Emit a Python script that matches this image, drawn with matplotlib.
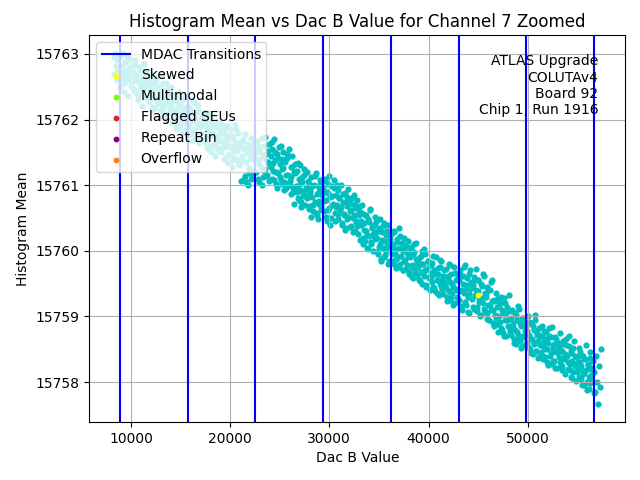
import numpy as np
import matplotlib
matplotlib.use("Agg")
import matplotlib.pyplot as plt

BASE = 15757.0

# MDAC transition positions (Dac B value)
mdac_transitions = [8880, 15710, 22540, 29370, 36200, 43030, 49860, 56690]

# segment boundaries of the sweep (Dac B)
seg_edges = [8260, 8880, 15710, 22540, 29370, 36200, 43030, 49860, 56690, 57380]

# histogram means (offset from 15757) read per segment, first pass
seg0 = [5.95, 5.70, 6.02, 5.82, 5.60, 5.90, 5.75, 5.98]
seg1 = [5.95, 5.62, 5.81, 5.70, 6.02, 5.55, 5.88, 5.74, 5.60, 5.92, 5.68, 5.79, 5.51, 5.85, 5.66,
        5.72, 5.45, 5.90, 5.58, 5.66, 5.38, 5.80, 5.52, 5.61, 5.75, 5.43, 5.57, 5.84, 5.49, 5.62,
        5.35, 5.60, 5.28, 5.52, 5.70, 5.41, 5.19, 5.55, 5.46, 5.33, 5.64, 5.25, 5.50, 5.38, 5.44,
        5.42, 5.15, 5.30, 5.55, 5.21, 5.36, 5.08, 5.47, 5.27, 5.12, 5.39, 5.24, 5.50, 5.18, 5.31,
        5.05, 5.28, 4.92, 5.15, 5.35, 5.00, 5.22, 4.88, 5.10, 5.30, 4.97, 5.18, 5.07, 4.85, 5.12]
seg2 = [5.20, 4.90, 5.08, 4.78, 5.15, 4.98, 5.28, 4.85, 5.02, 4.72, 5.12, 4.95, 5.22, 4.88, 5.00,
        4.80, 5.05, 4.70, 4.92, 5.12, 4.65, 4.88, 4.98, 4.75, 5.08, 4.83, 4.60, 4.95, 4.78, 4.90,
        4.62, 4.88, 4.75, 4.55, 4.98, 4.70, 4.82, 4.50, 4.92, 4.66, 4.78, 4.58, 4.85, 4.72, 4.45,
        4.70, 4.48, 4.85, 4.60, 4.38, 4.75, 4.55, 4.92, 4.42, 4.65, 4.52, 4.80, 4.35, 4.62, 4.58,
        4.40, 4.68, 4.10, 4.55, 4.78, 4.05, 4.50, 4.62, 4.18, 4.45, 4.72, 4.15, 4.58, 4.22, 4.48]
seg3 = [4.55, 4.20, 4.68, 4.38, 4.05, 4.50, 4.28, 4.72, 4.12, 4.42, 4.60, 4.25, 4.48, 4.15, 4.35,
        4.62, 4.30, 4.45, 4.10, 4.55, 4.22, 4.70, 4.38, 4.02, 4.48, 4.18, 4.58, 4.32, 4.08, 4.40,
        4.25, 4.50, 4.05, 4.35, 3.95, 4.42, 4.15, 4.55, 4.00, 4.28, 4.12, 4.45, 3.90, 4.20, 4.32,
        3.98, 4.22, 3.80, 4.10, 3.92, 4.30, 3.75, 4.05, 3.88, 4.15, 3.70, 3.95, 4.20, 3.85, 4.02,
        3.90, 3.68, 4.12, 3.82, 3.60, 4.00, 3.75, 4.18, 3.55, 3.88, 3.95, 3.72, 4.08, 3.62, 3.85]
seg4 = [3.95, 3.60, 4.10, 3.78, 3.45, 3.88, 4.02, 3.65, 3.82, 3.50, 3.98, 3.72, 4.08, 3.58, 3.85,
        3.70, 3.92, 3.48, 3.80, 3.62, 4.00, 3.40, 3.75, 3.55, 3.88, 3.35, 3.68, 3.82, 3.52, 3.78,
        3.60, 3.38, 3.72, 3.50, 3.85, 3.30, 3.65, 3.45, 3.78, 3.25, 3.55, 3.68, 3.40, 3.58, 3.20,
        3.42, 3.15, 3.55, 3.30, 3.05, 3.48, 3.22, 3.62, 3.10, 3.35, 3.00, 3.40, 3.18, 3.52, 3.28,
        3.20, 2.95, 3.35, 3.10, 2.85, 3.28, 3.05, 3.42, 2.90, 3.15, 3.00, 3.30, 2.80, 3.12, 3.22]
seg5 = [3.25, 2.95, 3.10, 2.80, 3.30, 3.02, 2.88, 3.18, 2.75, 3.05, 3.22, 2.92, 3.12, 2.70, 3.00,
        2.85, 3.08, 2.72, 2.98, 3.15, 2.65, 2.90, 3.02, 2.78, 2.60, 2.95, 3.10, 2.68, 2.88, 2.82,
        2.75, 2.55, 2.90, 2.68, 3.00, 2.50, 2.80, 2.62, 2.95, 2.45, 2.72, 2.85, 2.58, 2.78, 2.66,
        2.60, 2.82, 2.45, 2.70, 2.38, 2.90, 2.55, 2.65, 2.32, 2.75, 2.50, 2.85, 2.42, 2.62, 2.52,
        2.48, 2.72, 2.30, 2.58, 2.80, 2.25, 2.52, 2.65, 2.35, 2.45, 2.75, 2.20, 2.55, 2.40, 2.62]
seg6 = [2.55, 2.25, 2.70, 2.40, 2.10, 2.62, 2.35, 2.78, 2.18, 2.48, 2.30, 2.65, 2.05, 2.42, 2.52,
        2.45, 2.15, 2.60, 2.32, 2.72, 2.08, 2.38, 2.55, 2.22, 2.00, 2.50, 2.28, 2.65, 2.12, 2.35,
        2.30, 2.05, 2.45, 2.18, 1.95, 2.40, 2.10, 2.55, 1.90, 2.25, 2.02, 2.35, 1.88, 2.15, 2.28,
        2.00, 2.20, 1.82, 2.10, 1.75, 2.28, 1.95, 2.05, 1.70, 2.15, 1.85, 2.32, 1.78, 1.98, 2.08,
        1.90, 1.65, 2.05, 1.80, 1.58, 1.95, 1.72, 2.12, 1.62, 1.85, 1.55, 1.98, 1.68, 1.78, 1.88]
seg7 = [1.85, 1.60, 2.00, 1.72, 1.50, 1.90, 1.65, 1.42, 1.80, 1.58, 1.95, 1.48, 1.75, 1.62, 1.38,
        1.70, 1.45, 1.85, 1.55, 1.35, 1.78, 1.50, 1.65, 1.30, 1.60, 1.82, 1.40, 1.68, 1.28, 1.52,
        1.55, 1.32, 1.68, 1.45, 1.22, 1.60, 1.38, 1.75, 1.25, 1.48, 1.18, 1.58, 1.35, 1.42, 1.65,
        1.40, 1.20, 1.55, 1.28, 1.08, 1.48, 1.32, 1.15, 1.62, 1.25, 1.02, 1.38, 1.18, 1.52, 1.30,
        1.25, 1.05, 1.40, 1.12, 0.95, 1.35, 1.18, 0.88, 1.28, 1.08, 1.45, 0.98, 1.20, 1.02, 1.32]
seg8 = [1.15, 0.85, 1.40, 1.00, 0.66, 1.25, 0.92, 1.50]

# second pass over the same segments
seg1b = [5.50, 6.00, 5.72, 5.42, 5.88, 5.64, 5.98, 5.36, 5.78, 5.58, 5.90, 5.47, 5.69, 5.83, 5.40,
         5.60, 5.30, 5.76, 5.48, 5.20, 5.66, 5.86, 5.34, 5.54, 5.72, 5.26, 5.45, 5.62, 5.14, 5.38,
         5.46, 5.18, 5.58, 5.30, 5.04, 5.50, 5.24, 5.66, 5.10, 5.36, 5.56, 5.00, 5.28, 5.44, 5.16,
         5.26, 4.96, 5.38, 5.12, 4.86, 5.30, 5.06, 5.42, 4.90, 5.20, 4.80, 5.14, 5.34, 4.94, 5.02]
seg2b = [4.86, 5.18, 4.94, 4.68, 5.10, 4.82, 5.25, 4.74, 4.98, 5.14, 4.64, 4.90, 5.06, 4.70, 4.96,
         4.72, 4.96, 4.56, 4.84, 5.04, 4.50, 4.76, 4.92, 4.62, 4.44, 4.88, 4.68, 4.98, 4.52, 4.80,
         4.58, 4.82, 4.40, 4.66, 4.90, 4.34, 4.60, 4.76, 4.46, 4.28, 4.70, 4.54, 4.86, 4.38, 4.64,
         4.30, 4.58, 4.06, 4.44, 4.70, 4.14, 4.36, 4.60, 4.00, 4.26, 4.52, 4.10, 4.40, 4.66, 4.20]
seg3b = [4.40, 4.64, 4.10, 4.32, 4.58, 4.00, 4.46, 4.22, 4.74, 4.14, 4.36, 4.52, 4.06, 4.28, 4.66,
         4.34, 4.08, 4.50, 4.20, 3.96, 4.42, 4.12, 4.60, 4.02, 4.26, 3.92, 4.38, 4.16, 4.48, 4.04,
         4.06, 3.86, 4.28, 3.96, 3.72, 4.18, 3.90, 4.34, 3.78, 4.02, 3.66, 4.12, 3.84, 4.24, 3.94,
         3.80, 4.06, 3.64, 3.92, 3.52, 3.98, 3.70, 4.14, 3.58, 3.86, 3.48, 3.76, 4.02, 3.66, 3.90]
seg4b = [3.76, 4.06, 3.52, 3.90, 3.62, 4.14, 3.40, 3.84, 3.70, 3.96, 3.46, 3.66, 4.00, 3.56, 3.80,
         3.66, 3.42, 3.86, 3.56, 3.32, 3.74, 3.48, 3.94, 3.36, 3.62, 3.80, 3.28, 3.54, 3.70, 3.44,
         3.38, 3.60, 3.16, 3.46, 3.70, 3.10, 3.32, 3.54, 3.24, 3.02, 3.44, 3.64, 3.14, 3.36, 3.26,
         3.22, 3.44, 2.98, 3.30, 3.06, 3.48, 2.88, 3.16, 3.38, 2.94, 3.24, 3.08, 3.40, 2.84, 3.18]
seg5b = [3.06, 2.84, 3.28, 2.96, 2.74, 3.14, 2.90, 3.34, 2.80, 3.02, 2.70, 3.20, 2.86, 3.08, 2.78,
         2.94, 2.68, 3.06, 2.76, 2.58, 2.98, 2.72, 3.12, 2.62, 2.86, 2.54, 2.92, 2.80, 2.66, 3.02,
         2.70, 2.48, 2.84, 2.60, 2.40, 2.78, 2.52, 2.92, 2.44, 2.64, 2.36, 2.74, 2.56, 2.86, 2.46,
         2.56, 2.34, 2.70, 2.44, 2.24, 2.62, 2.38, 2.78, 2.28, 2.50, 2.18, 2.66, 2.42, 2.30, 2.58]
seg6b = [2.38, 2.64, 2.16, 2.50, 2.76, 2.22, 2.44, 2.58, 2.06, 2.34, 2.70, 2.26, 2.48, 2.12, 2.56,
         2.40, 2.14, 2.56, 2.28, 2.02, 2.46, 2.20, 2.62, 2.08, 2.34, 1.96, 2.42, 2.18, 2.52, 2.24,
         2.10, 1.86, 2.24, 1.98, 1.76, 2.16, 1.92, 2.30, 1.80, 2.04, 1.70, 2.20, 1.94, 2.08, 1.84,
         1.96, 1.72, 2.10, 1.84, 1.60, 2.02, 1.76, 2.16, 1.64, 1.90, 1.52, 1.98, 1.70, 1.86, 1.58]
seg7b = [1.78, 1.54, 1.92, 1.66, 1.44, 1.86, 1.60, 2.02, 1.48, 1.72, 1.36, 1.82, 1.56, 1.70, 1.40,
         1.62, 1.38, 1.76, 1.50, 1.26, 1.70, 1.44, 1.84, 1.32, 1.58, 1.22, 1.66, 1.46, 1.54, 1.30,
         1.48, 1.24, 1.62, 1.36, 1.12, 1.56, 1.30, 1.70, 1.18, 1.44, 1.06, 1.52, 1.28, 1.40, 1.16,
         1.30, 1.08, 1.46, 1.20, 0.96, 1.40, 1.14, 1.56, 1.00, 1.26, 0.90, 1.36, 1.10, 1.22, 0.84]

segments = [seg0, seg1, seg2, seg3, seg4, seg5, seg6, seg7, seg8]
segments_b = [None, seg1b, seg2b, seg3b, seg4b, seg5b, seg6b, seg7b, None]

# flagged points
skewed_x = [44980]
skewed_y = [2.32]

xs, ys = [], []
for i, seg in enumerate(segments):
    lo, hi = seg_edges[i], seg_edges[i + 1]
    xs.append(np.linspace(lo, hi, len(seg), endpoint=(i == len(segments) - 1)))
    ys.append(np.array(seg) + BASE)
    segb = segments_b[i]
    if segb is not None:
        step = (hi - lo) / len(segb)
        xs.append(np.linspace(lo + 0.5 * step, hi - 0.5 * step, len(segb)))
        ys.append(np.array(segb) + BASE)
dac = np.concatenate(xs)
mean = np.concatenate(ys)

fig = plt.figure(figsize=(6.4, 4.8), dpi=100)
ax = fig.add_axes([0.1395, 0.121, 0.8375, 0.806])

ax.scatter(dac, mean, s=12, color="c")
for i, t in enumerate(mdac_transitions):
    ax.axvline(t, color="b", lw=1.5, label="MDAC Transitions" if i == 0 else None)

ax.scatter(np.array(skewed_x), np.array(skewed_y) + BASE, s=10, color="yellow", label="Skewed")
ax.scatter([], [], s=10, color="lawngreen", label="Multimodal")
ax.scatter([], [], s=10, color="tab:red", label="Flagged SEUs")
ax.scatter([], [], s=10, color="purple", label="Repeat Bin")
ax.scatter([], [], s=10, color="tab:orange", label="Overflow")

ax.grid(True)
ax.set_title("Histogram Mean vs Dac B Value for Channel 7 Zoomed")
ax.set_xlabel("Dac B Value")
ax.set_ylabel("Histogram Mean")
ax.ticklabel_format(useOffset=False, style="plain", axis="y")
ax.legend(loc="upper left")
ax.text(0.95, 0.95, "ATLAS Upgrade\nCOLUTAv4\nBoard 92\nChip 1, Run 1916",
        transform=ax.transAxes, ha="right", va="top", fontsize=10)

fig.savefig("out.png", dpi=100)
